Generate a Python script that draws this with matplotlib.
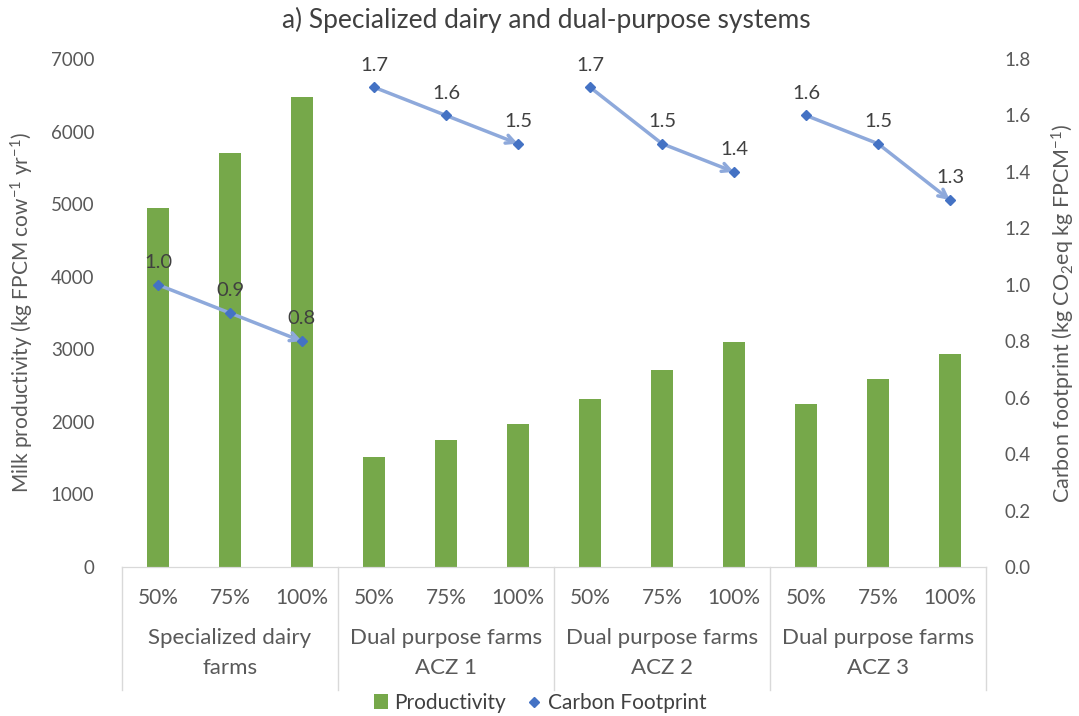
import matplotlib
matplotlib.use("Agg")
import matplotlib.pyplot as plt
from matplotlib.lines import Line2D
from matplotlib.patches import Patch
import numpy as np

plt.rcParams['font.family'] = ['Lato', 'DejaVu Sans']
plt.rcParams['mathtext.fontset'] = 'custom'
plt.rcParams['mathtext.rm'] = 'Lato'
plt.rcParams['mathtext.it'] = 'Lato:italic'
plt.rcParams['mathtext.default'] = 'regular'

# ---- data ----
levels = ["50%", "75%", "100%"]
groups = ["Specialized dairy\nfarms", "Dual purpose farms\nACZ 1",
          "Dual purpose farms\nACZ 2", "Dual purpose farms\nACZ 3"]
productivity = [4950, 5710, 6480, 1520, 1745, 1965, 2320, 2710, 3105, 2245, 2590, 2935]
carbon_footprint = [1.0, 0.9, 0.8, 1.7, 1.6, 1.5, 1.7, 1.5, 1.4, 1.6, 1.5, 1.3]
left_ticks = [0, 1000, 2000, 3000, 4000, 5000, 6000, 7000]
right_ticks = [0.0, 0.2, 0.4, 0.6, 0.8, 1.0, 1.2, 1.4, 1.6, 1.8]

GREEN = '#76A84A'
LINE = '#8EA9DB'
MARK = '#4472C4'
TXT = '#595959'
GRID = '#D9D9D9'
FS = 13.5

W, H = 1079, 716
fig = plt.figure(figsize=(W / 100, H / 100), dpi=100)
ax = fig.add_axes([122 / W, 1 - 567 / H, (986 - 122) / W, (567 - 59) / H])
ax2 = ax.twinx()

n = len(productivity)
x = np.arange(n)
ax.bar(x, productivity, width=0.315, color=GREEN, zorder=2)
ax.set_xlim(-0.5, n - 0.5)
ax.set_ylim(0, 7000)
ax.set_yticks(left_ticks)
ax.set_yticklabels([str(t) for t in left_ticks])
ax2.set_ylim(0, 1.8)
ax2.set_yticks(right_ticks)
ax2.set_yticklabels([f"{t:.1f}" for t in right_ticks])

for a in (ax, ax2):
    for s in ('left', 'right', 'top'):
        a.spines[s].set_visible(False)
    a.spines['bottom'].set_color(GRID)
    a.tick_params(axis='y', length=0, labelsize=FS, labelcolor=TXT)
    a.tick_params(axis='x', length=0)
ax.tick_params(axis='y', pad=20)
ax2.tick_params(axis='y', pad=13)
ax.set_xticks([])

# carbon footprint lines per group with arrow at end
ng = len(levels)
for g in range(len(groups)):
    xs = x[g * ng:(g + 1) * ng]
    ys = carbon_footprint[g * ng:(g + 1) * ng]
    ax2.plot(xs[:-1], ys[:-1], color=LINE, lw=2.5, zorder=3)
    ax2.annotate('', xy=(xs[-1], ys[-1]), xytext=(xs[-2], ys[-2]),
                 arrowprops=dict(arrowstyle='->,head_length=0.6,head_width=0.3',
                                 color=LINE, lw=2.5, shrinkA=0, shrinkB=0), zorder=3)
    ax2.plot(xs, ys, linestyle='none', marker='D', markersize=5, color=MARK, zorder=4)
    for xi, yi in zip(xs, ys):
        ax2.annotate(f"{yi:.1f}", (xi, yi), xytext=(0, 16), textcoords='offset points',
                     ha='center', va='center', fontsize=14.5, color='#404040')

# category axis
trans = ax.get_xaxis_transform()
ybot = -(690 - 567) / (567 - 59)
for i in range(n):
    ax.text(x[i], -(598 - 567) / (567 - 59), levels[i % ng], transform=trans,
            ha='center', va='center', fontsize=15, color=TXT)
for g, name in enumerate(groups):
    ax.text(g * ng + (ng - 1) / 2, -(653 - 567) / (567 - 59), name, transform=trans,
            ha='center', va='center', fontsize=16, color=TXT, linespacing=1.6)
for b in range(len(groups) + 1):
    ax.plot([b * ng - 0.5] * 2, [0, ybot], transform=trans, color=GRID, lw=1,
            clip_on=False)

fig.text(546 / W, 1 - 20 / H, "a) Specialized dairy and dual-purpose systems",
         ha='center', va='center', fontsize=19, color='#404040')
fig.text(22 / W, 1 - 313 / H, r"Milk productivity (kg FPCM cow$^{-1}$ yr$^{-1}$)",
         rotation=90, ha='center', va='center', fontsize=15, color=TXT)
fig.text(1063 / W, 1 - 313 / H, r"Carbon footprint (kg CO$_2$eq kg FPCM$^{-1}$)",
         rotation=90, ha='center', va='center', fontsize=15.5, color=TXT)

handles = [Patch(facecolor=GREEN, label='Productivity'),
           Line2D([], [], linestyle='none', marker='D', markersize=5, color=MARK,
                  label='Carbon Footprint')]
fig.legend(handles=handles, loc='center', bbox_to_anchor=(540 / W, 1 - 703 / H), ncol=2,
           frameon=False, fontsize=15, handlelength=0.7, handleheight=0.7,
           handletextpad=0.3, columnspacing=1.0, labelcolor='#404040')

fig.savefig("out.png", dpi=100)
